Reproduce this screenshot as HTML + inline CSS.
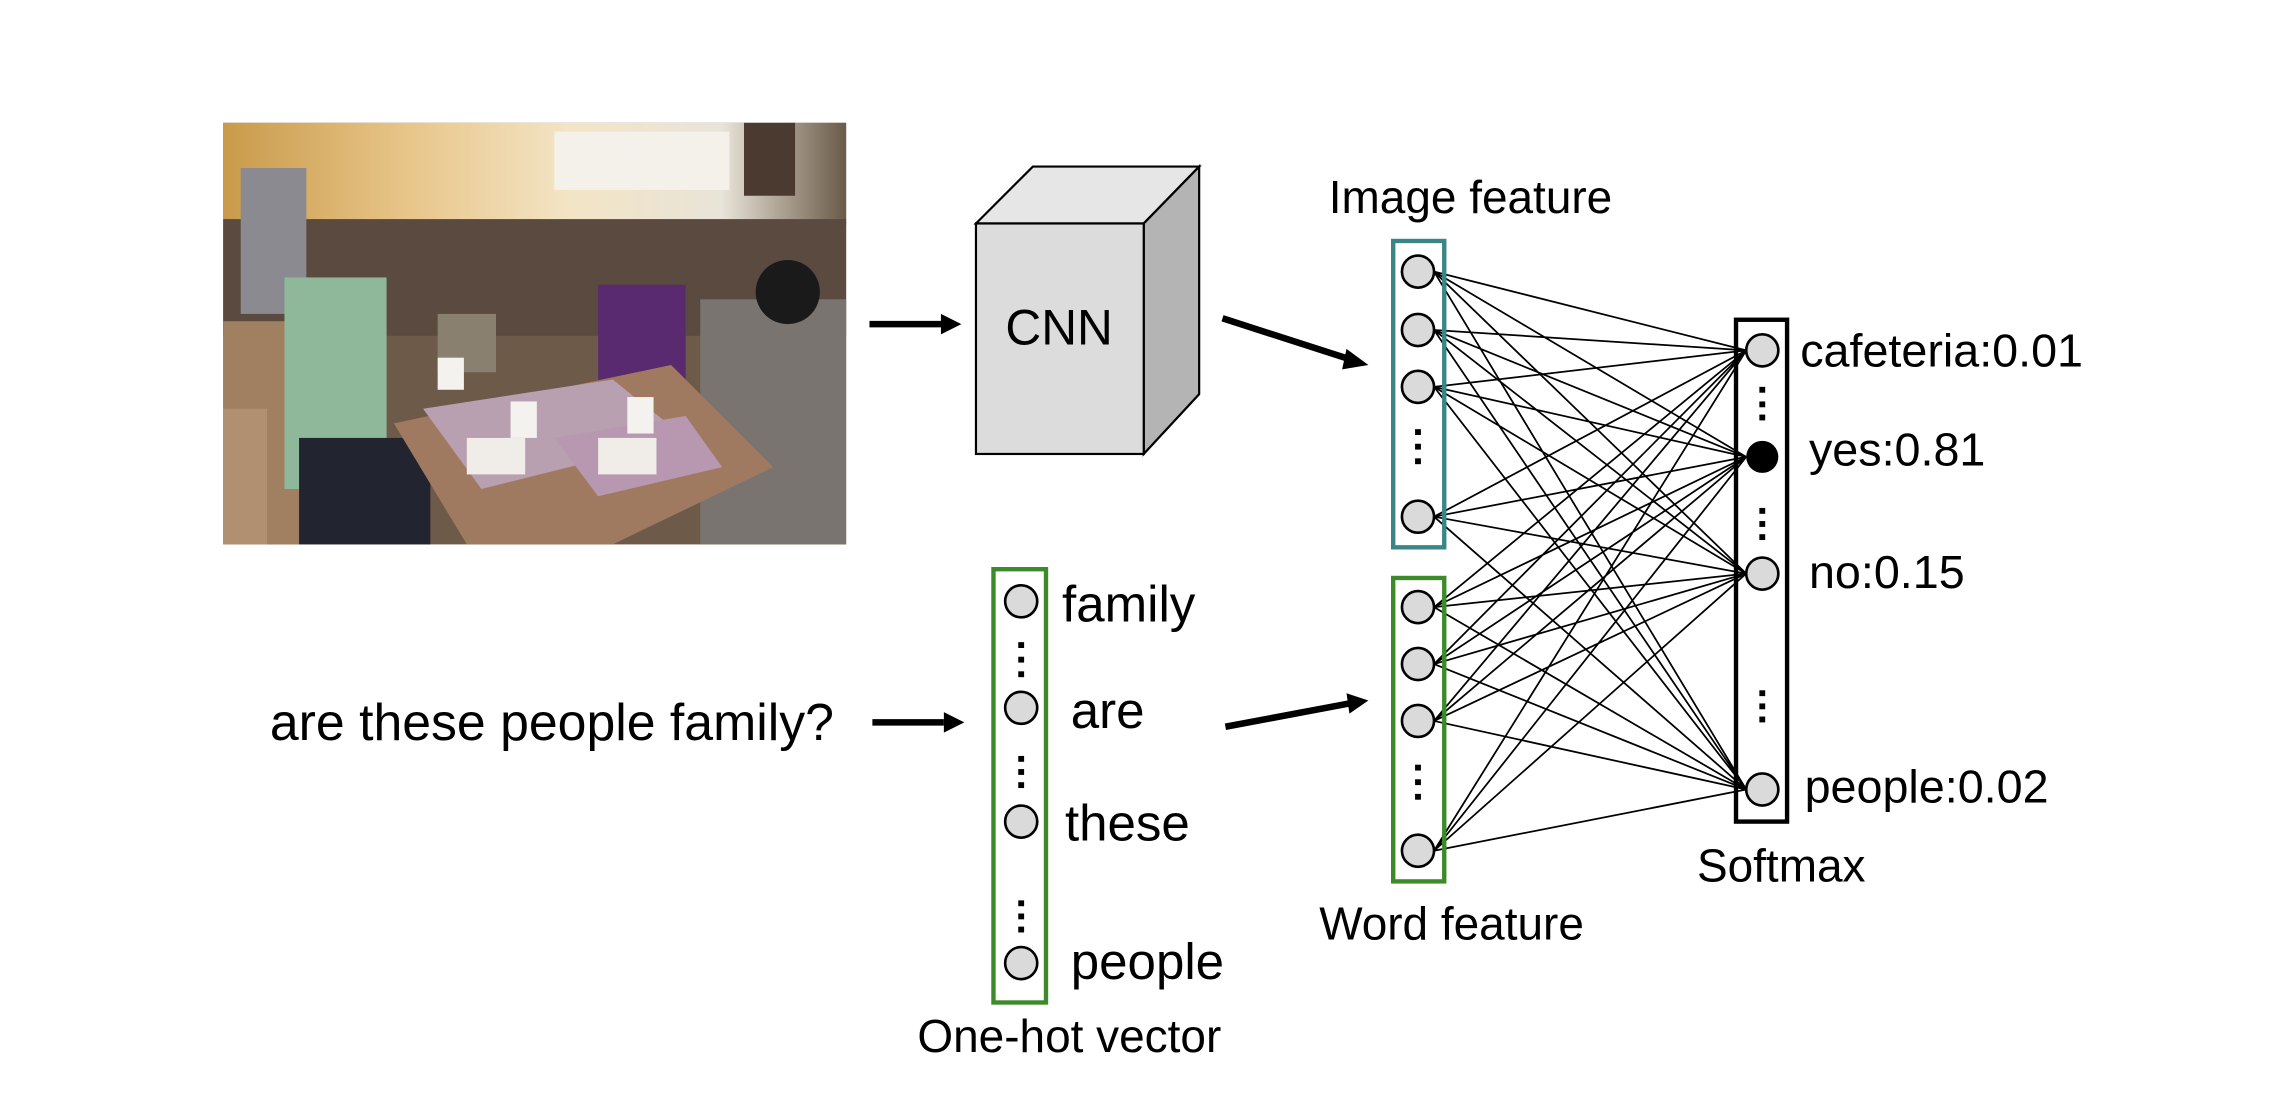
<!DOCTYPE html>
<html><head><meta charset="utf-8"><style>
html,body{margin:0;padding:0;background:#fff;}
svg{display:block;}
text{font-family:"Liberation Sans",Arial,sans-serif;fill:#000;}
</style></head><body>
<svg width="2286" height="1118" viewBox="0 0 1567 766" xmlns="http://www.w3.org/2000/svg">
<defs>
<linearGradient id="wall" x1="0" y1="0" x2="1" y2="0">
<stop offset="0" stop-color="#c99a4a"/><stop offset="0.3" stop-color="#e8c68a"/><stop offset="0.55" stop-color="#f3e4c4"/><stop offset="0.8" stop-color="#e9e4d9"/><stop offset="1" stop-color="#6a5a48"/>
</linearGradient>
</defs>

<!-- Photo approximation -->
<g>
<rect x="153" y="84" width="427" height="289" fill="#6e5a48"/>
<rect x="153" y="84" width="427" height="70" fill="url(#wall)"/>
<rect x="380" y="90" width="120" height="40" fill="#f4f1ea"/>
<rect x="510" y="84" width="35" height="50" fill="#4a3a30"/>
<rect x="153" y="150" width="427" height="80" fill="#5a4a40"/>
<rect x="153" y="220" width="60" height="153" fill="#a08060"/>
<rect x="165" y="115" width="45" height="100" fill="#8a8a90"/>
<rect x="195" y="190" width="70" height="145" fill="#8fb89a"/>
<rect x="205" y="300" width="90" height="73" fill="#222430"/>
<rect x="300" y="215" width="40" height="40" fill="#8a8070"/>
<rect x="410" y="195" width="60" height="90" fill="#5a2a70"/>
<rect x="480" y="205" width="100" height="168" fill="#7a7470"/>
<circle cx="540" cy="200" r="22" fill="#1a1a1a"/>
<polygon points="270,290 460,250 530,320 420,373 320,373" fill="#a07a60"/>
<polygon points="290,280 420,260 470,300 330,335" fill="#b8a0b0"/>
<polygon points="380,300 470,285 495,320 410,340" fill="#b898b0"/>
<rect x="320" y="300" width="40" height="25" fill="#f0ece8"/>
<rect x="410" y="300" width="40" height="25" fill="#f0ece8"/>
<rect x="430" y="272" width="18" height="25" fill="#f4f2ee"/>
<rect x="350" y="275" width="18" height="25" fill="#f4f2ee"/>
<rect x="300" y="245" width="18" height="22" fill="#f4f2ee"/>
<rect x="153" y="280" width="30" height="93" fill="#b09070"/>
</g>

<!-- Arrows -->
<g stroke="#000" stroke-width="4.5" fill="none">
<line x1="596" y1="222" x2="645" y2="222"/>
<line x1="838" y1="218" x2="925" y2="246"/>
<line x1="598" y1="495" x2="647" y2="495"/>
<line x1="840" y1="498" x2="925" y2="482"/>
</g>
<polygon points="645,215 659,222 645,229" fill="#000"/>
<polygon points="923,239 938,250 920,253" fill="#000"/>
<polygon points="647,488 661,495 647,502" fill="#000"/>
<polygon points="923,475 938,480 925,489" fill="#000"/>

<!-- CNN cube -->
<g stroke="#000" stroke-width="1.5">
<polygon points="669,153 708,114 822,114 784,153" fill="#e6e6e6"/>
<polygon points="784,153 822,114 822,270 784,311" fill="#b4b4b4"/>
<rect x="669" y="153" width="115" height="158" fill="#dcdcdc"/>
</g>
<text x="726" y="236" font-size="34" text-anchor="middle">CNN</text>

<!-- Connections -->
<g stroke="#000" stroke-width="1.2">
<path d="M983,186L1197,240M983,186L1197,313M983,186L1197,393M983,186L1197,541
M983,226L1197,240M983,226L1197,313M983,226L1197,393M983,226L1197,541
M983,265L1197,240M983,265L1197,313M983,265L1197,393M983,265L1197,541
M983,354L1197,240M983,354L1197,313M983,354L1197,393M983,354L1197,541
M983,416L1197,240M983,416L1197,313M983,416L1197,393M983,416L1197,541
M983,455L1197,240M983,455L1197,313M983,455L1197,393M983,455L1197,541
M983,494L1197,240M983,494L1197,313M983,494L1197,393M983,494L1197,541
M983,583L1197,240M983,583L1197,313M983,583L1197,393M983,583L1197,541"/>
</g>

<!-- Boxes -->
<rect x="955" y="165" width="35" height="210" fill="none" stroke="#3a8585" stroke-width="3"/>
<rect x="955" y="396" width="35" height="208" fill="none" stroke="#3d8a2a" stroke-width="3"/>
<rect x="1190" y="219" width="35" height="344" fill="none" stroke="#000" stroke-width="3"/>
<rect x="681" y="390" width="36" height="297" fill="none" stroke="#3d8a2a" stroke-width="3"/>

<!-- Nodes -->
<g fill="#dadada" stroke="#000" stroke-width="1.8">
<circle cx="972" cy="186" r="11"/><circle cx="972" cy="226" r="11"/><circle cx="972" cy="265" r="11"/><circle cx="972" cy="354" r="11"/>
<circle cx="972" cy="416" r="11"/><circle cx="972" cy="455" r="11"/><circle cx="972" cy="494" r="11"/><circle cx="972" cy="583" r="11"/>
<circle cx="1208" cy="240" r="11"/><circle cx="1208" cy="393" r="11"/><circle cx="1208" cy="541" r="11"/>
<circle cx="700" cy="412" r="11"/><circle cx="700" cy="485" r="11"/><circle cx="700" cy="563" r="11"/><circle cx="700" cy="660" r="11"/>
</g>
<circle cx="1208" cy="313" r="11" fill="#000"/>

<!-- Dots -->
<g fill="#000">
<rect x="970" y="294" width="4" height="4"/><rect x="970" y="304" width="4" height="4"/><rect x="970" y="314" width="4" height="4"/>
<rect x="970" y="524" width="4" height="4"/><rect x="970" y="534" width="4" height="4"/><rect x="970" y="544" width="4" height="4"/>
<rect x="1206" y="265" width="4" height="4"/><rect x="1206" y="275" width="4" height="4"/><rect x="1206" y="284" width="4" height="4"/>
<rect x="1206" y="348" width="4" height="4"/><rect x="1206" y="357" width="4" height="4"/><rect x="1206" y="366" width="4" height="4"/>
<rect x="1206" y="473" width="4" height="4"/><rect x="1206" y="482" width="4" height="4"/><rect x="1206" y="491" width="4" height="4"/>
<rect x="698" y="440" width="4" height="4"/><rect x="698" y="450" width="4" height="4"/><rect x="698" y="460" width="4" height="4"/>
<rect x="698" y="518" width="4" height="4"/><rect x="698" y="527" width="4" height="4"/><rect x="698" y="536" width="4" height="4"/>
<rect x="698" y="617" width="4" height="4"/><rect x="698" y="626" width="4" height="4"/><rect x="698" y="635" width="4" height="4"/>
</g>

<!-- Labels -->
<text x="1008" y="146" font-size="31.5" text-anchor="middle">Image feature</text>
<text x="995" y="644" font-size="31.5" text-anchor="middle">Word feature</text>
<text x="1221" y="604" font-size="31.5" text-anchor="middle">Softmax</text>
<text x="733" y="721" font-size="31.5" text-anchor="middle">One-hot vector</text>
<text x="728" y="426" font-size="35">family</text>
<text x="734" y="499" font-size="35">are</text>
<text x="730" y="576" font-size="35">these</text>
<text x="734" y="671" font-size="35">people</text>
<text x="1234" y="251" font-size="32">cafeteria:0.01</text>
<text x="1240" y="319" font-size="32">yes:0.81</text>
<text x="1240" y="403" font-size="32">no:0.15</text>
<text x="1237" y="550" font-size="32">people:0.02</text>
<text x="185" y="507" font-size="35.5">are these people family?</text>
</svg>
</body></html>
